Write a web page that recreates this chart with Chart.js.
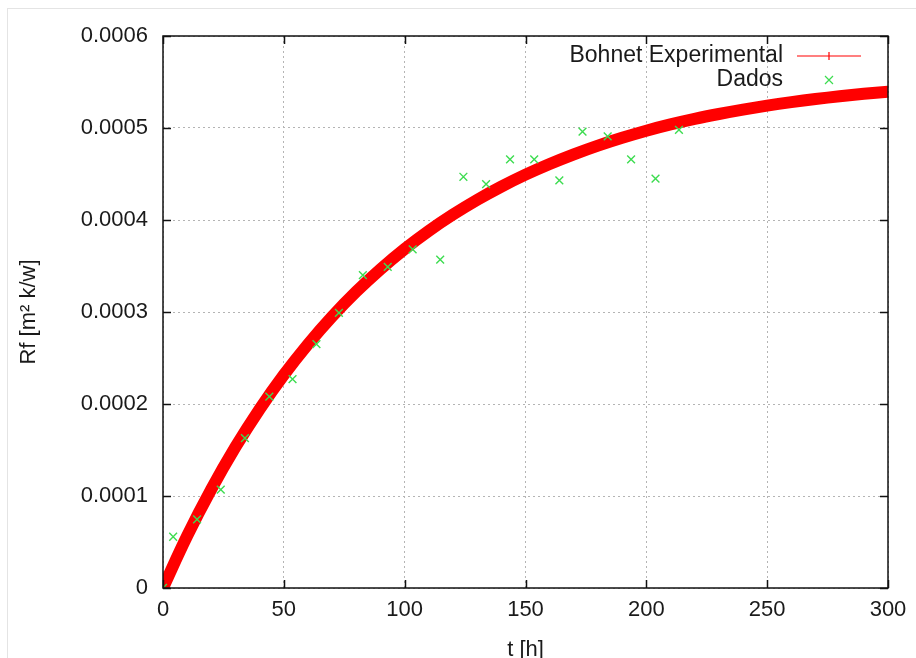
<!DOCTYPE html>
<html lang="pt">

<head>
    <meta charset="UTF-8">
    <title>Rf x t</title>
    <script src="https://cdn.jsdelivr.net/npm/chart.js@4"></script>
    <style>
        body { margin: 0; background: #fff; }
        .moldura { position: absolute; left: 7px; top: 8px; width: 930px; height: 670px; border: 1px solid #e4e4e4; }
        #grafico { position: absolute; left: 0; top: 0; }
    </style>
</head>

<body>
    <div class="moldura"></div>
    <canvas id="grafico" width="916" height="658"></canvas>

<script>
    // dados
    const tempoDados = [0, 4.2, 14.1, 23.9, 33.9, 44, 53.6, 63.5, 72.8, 82.7, 93, 103.3, 114.7, 124.3, 133.7, 143.6, 153.6, 164, 173.6, 184, 193.7, 203.8, 213.5];
    const rfDados = [0, 0.0000557, 0.0000747, 0.000107, 0.000163, 0.000208, 0.000227, 0.000265, 0.000299, 0.00034, 0.000349, 0.000368, 0.000357, 0.000447, 0.000439, 0.000466, 0.000466, 0.000443, 0.000496, 0.000491, 0.000466, 0.000445, 0.000498];

    // curva Bohnet, lida a cada 10 h
    const tempoBohnet = [0, 10, 20, 30, 40, 50, 60, 70, 80, 90, 100, 110, 120, 130, 140, 150, 160, 170, 180, 190, 200, 210, 220, 230, 240, 250, 260, 270, 280, 290, 300];
    const rfBohnet = [0, 0.0000566, 0.0001074, 0.0001533, 0.0001945, 0.0002316, 0.000265, 0.0002951, 0.0003222, 0.0003465, 0.0003685, 0.0003882, 0.0004059, 0.0004219, 0.0004363, 0.0004493, 0.0004609, 0.0004714, 0.0004809, 0.0004894, 0.0004971, 0.0005039, 0.0005099, 0.0005152, 0.00052, 0.0005243, 0.0005281, 0.0005315, 0.0005345, 0.0005372, 0.0005395];

    const rotulosY = ['0', '0.0001', '0.0002', '0.0003', '0.0004', '0.0005', '0.0006'];
    const nomes = ['Dados', 'Bohnet Experimental'];

    const fonte = '"Liberation Sans", Arial, sans-serif';
    const corTexto = '#1a1a1a';

    // borda, marcas internas e legenda no estilo gnuplot
    const molduraPlot = {
        id: 'molduraPlot',
        afterDraw(chart) {
            const ctx = chart.ctx;
            const a = chart.chartArea;
            const sx = chart.scales.x, sy = chart.scales.y;
            ctx.save();
            ctx.strokeStyle = '#111';
            ctx.lineWidth = 1.5;
            ctx.beginPath();
            sx.ticks.forEach(function (t) {
                const px = Math.round(sx.getPixelForValue(t.value)) + 0.5;
                ctx.moveTo(px, a.bottom); ctx.lineTo(px, a.bottom - 8);
                ctx.moveTo(px, a.top); ctx.lineTo(px, a.top + 8);
            });
            sy.ticks.forEach(function (t) {
                const py = Math.round(sy.getPixelForValue(t.value)) + 0.5;
                ctx.moveTo(a.left, py); ctx.lineTo(a.left + 8, py);
                ctx.moveTo(a.right, py); ctx.lineTo(a.right - 8, py);
            });
            ctx.stroke();
            ctx.strokeRect(a.left, a.top, a.right - a.left, a.bottom - a.top);

            // legenda
            ctx.font = '23px ' + fonte;
            ctx.fillStyle = corTexto;
            ctx.textAlign = 'right';
            ctx.textBaseline = 'middle';
            const xt = a.right - 105, xm = a.right - 59;
            const dsB = chart.data.datasets[1], dsD = chart.data.datasets[0];
            ctx.fillText(dsB.label, xt, 56);
            ctx.fillText(dsD.label, xt, 80);
            ctx.strokeStyle = dsB.borderColor;
            ctx.lineWidth = 1.2;
            ctx.beginPath();
            ctx.moveTo(xm - 32, 56); ctx.lineTo(xm + 32, 56);
            ctx.moveTo(xm, 52); ctx.lineTo(xm, 60);
            ctx.stroke();
            ctx.strokeStyle = dsD.borderColor;
            ctx.beginPath();
            ctx.moveTo(xm - 4, 76); ctx.lineTo(xm + 4, 84);
            ctx.moveTo(xm + 4, 76); ctx.lineTo(xm - 4, 84);
            ctx.stroke();
            ctx.restore();
        }
    };

    new Chart(document.getElementById('grafico'), {
        type: 'scatter',
        data: {
            datasets: [{
                label: nomes[0],
                data: tempoDados.map(function (t, i) { return { x: t, y: rfDados[i] }; }),
                showLine: false,
                pointStyle: 'crossRot',
                pointRadius: 5.5,
                borderColor: '#3ddc50',
                backgroundColor: '#3ddc50',
                borderWidth: 1.4,
                order: 0
            }, {
                label: nomes[1],
                data: tempoBohnet.map(function (t, i) { return { x: t, y: rfBohnet[i] }; }),
                showLine: true,
                pointRadius: 0,
                borderColor: '#ff0000',
                backgroundColor: '#ff0000',
                borderWidth: 12,
                borderCapStyle: 'round',
                borderJoinStyle: 'round',
                tension: 0.4,
                order: 1
            }]
        },
        options: {
            responsive: false,
            animation: false,
            layout: { padding: { left: 16, right: 28, top: 36, bottom: 0 } },
            plugins: { legend: { display: false }, tooltip: { enabled: false } },
            scales: {
                x: {
                    type: 'linear',
                    min: 0, max: 300,
                    afterFit: function (s) { s.height = 70; },
                    ticks: { stepSize: 50, padding: 9, color: corTexto, font: { size: 22, family: fonte } },
                    grid: { color: '#b4b4b4', borderDash: [2, 3], drawTicks: false },
                    border: { display: false, dash: [2, 3] },
                    title: { display: true, text: 't [h]', color: corTexto, font: { size: 22, family: fonte }, padding: { top: 0, bottom: -5 } }
                },
                y: {
                    type: 'linear',
                    min: 0, max: 0.0006,
                    afterFit: function (s) { s.width = 147; },
                    ticks: {
                        stepSize: 0.0001, padding: 15, color: corTexto, font: { size: 22, family: fonte },
                        callback: function (v) { return rotulosY[Math.round(v / 0.0001)]; }
                    },
                    grid: { color: '#b4b4b4', drawTicks: false },
                    border: { display: false, dash: [2, 3] },
                    title: { display: true, text: 'Rf [m² k/w]', color: corTexto, font: { size: 22, family: fonte }, padding: { top: 0, bottom: 0 } }
                }
            }
        },
        plugins: [molduraPlot]
    });
</script>
</body>

</html>
